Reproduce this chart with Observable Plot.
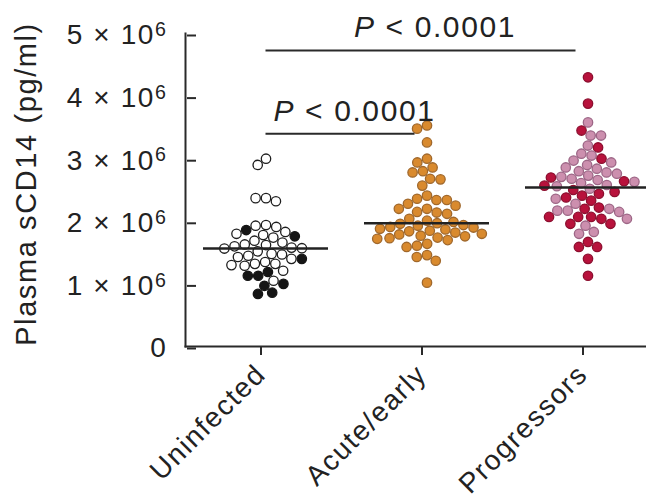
<!DOCTYPE html>
<html><head><meta charset="utf-8">
<script src="https://cdn.jsdelivr.net/npm/d3@7"></script>
<script src="https://cdn.jsdelivr.net/npm/@observablehq/plot@0.6"></script>
<style>body{margin:0;background:#fff} svg{display:block}</style>
</head><body><div id="chart"></div>
<script>
// values in units of 10^6 pg/ml
const categories = ["Uninfected", "Acute/early", "Progressors"];
const uninfectedOpen = [3.00, 2.90, 2.37, 2.32, 2.37, 1.93, 1.91, 1.94, 1.80, 1.83, 1.74, 1.69, 1.78, 1.66, 1.60, 1.63, 1.57, 1.565, 1.62, 1.58, 1.52, 1.45, 1.40, 1.43, 1.48, 1.47, 1.32, 1.35, 1.29, 1.32, 1.30, 1.21, 1.05];
const uninfectedFilled = [1.76, 1.86, 1.40, 1.13, 1.13, 1.19, 0.97, 1.00, 0.84, 0.86];
const acuteEarly = [3.53, 3.48, 3.26, 3.00, 2.94, 2.86, 2.78, 2.80, 2.67, 2.68, 2.57, 2.41, 2.36, 2.34, 2.34, 2.25, 2.28, 2.20, 2.20, 2.15, 2.12, 2.14,
  2.04, 2.01, 1.99, 1.97, 1.96, 1.94, 1.93, 1.91, 1.90, 1.88, 1.87, 1.85, 1.84, 1.82, 1.80, 1.79, 1.77, 1.76, 1.74, 1.73, 1.72, 1.70,
  1.64, 1.61, 1.59, 1.46, 1.43, 1.37, 1.02];
const progressorsRed = [4.30, 3.88, 3.45, 3.18, 3.00, 2.70, 2.64, 2.57, 2.50, 2.47, 2.44, 2.41, 2.38, 2.33, 2.20, 2.22, 2.07, 2.04, 2.07, 2.07, 1.96, 1.96, 1.67, 1.59, 1.59, 1.40, 1.13];
const progressorsPink = [3.58, 3.37, 3.37, 3.21, 3.08, 3.05, 2.97, 2.94, 2.90, 2.86, 2.84, 2.80, 2.78, 2.76, 2.73, 2.71, 2.68, 2.66, 2.63, 2.61, 2.58, 2.56, 2.52, 2.36, 2.28, 2.20, 2.17, 2.17, 2.15, 2.04, 1.93, 1.83, 1.80];
const yTicks = [0, 1, 2, 3, 4, 5];
const yTitle = "Plasma sCD14 (pg/ml)";
const brackets = [
  {from: "Uninfected", to: "Acute/early", y: 3.40},
  {from: "Uninfected", to: "Progressors", y: 4.73}
];
const pLabel = "P < 0.0001";

const fillOf = {open: "#ffffff", filled: "#151515", acute: "#d98a2e", red: "#b8123c", pink: "#cc8fae"};
const strokeOf = {open: "#1e1e1e", filled: "#151515", acute: "#a0682c", red: "#8c0f2f", pink: "#9d6686"};

const rows = [
  ...uninfectedOpen.map(v => ({group: categories[0], value: v, kind: "open"})),
  ...uninfectedFilled.map(v => ({group: categories[0], value: v, kind: "filled"})),
  ...acuteEarly.map(v => ({group: categories[1], value: v, kind: "acute"})),
  ...progressorsRed.map(v => ({group: categories[2], value: v, kind: "red"})),
  ...progressorsPink.map(v => ({group: categories[2], value: v, kind: "pink"}))
].sort((a, b) => d3.descending(a.value, b.value));

const idx = c => categories.indexOf(c);

const svg = Plot.plot({
  width: 646,
  height: 502,
  marginLeft: 195,
  marginRight: 0,
  marginTop: 33,
  marginBottom: 156,
  style: {fontFamily: "'Liberation Sans', Arial, sans-serif", fontSize: "27px", color: "#222", letterSpacing: "1.6px", background: "#fff"},
  fx: {domain: categories, range: [184, 669], paddingInner: 0, paddingOuter: 0},
  x: {domain: [-0.5, 0.5], axis: null},
  y: {domain: [0, 5]},
  marks: [
    Plot.frame({anchor: "left", facet: "super", stroke: "#2a2a2a", strokeWidth: 2}),
    Plot.frame({anchor: "bottom", facet: "super", stroke: "#2a2a2a", strokeWidth: 2}),
    Plot.axisY({ticks: yTicks, tickSize: 9, tickPadding: 20, dx: 11, dy: 2, strokeWidth: 2, stroke: "#2a2a2a", fontSize: 28,
      tickFormat: d => d === 0 ? "0" : `${d} × 10^6`, label: null}),
    Plot.axisFx({anchor: "bottom", tickSize: 9, tickPadding: 14, dx: -5, tickRotate: -45, label: null, strokeWidth: 2, stroke: "#2a2a2a", fontSize: 28}),
    Plot.text([yTitle], {facet: "super", text: d => d, frameAnchor: "left", textAnchor: "middle", rotate: -90, dx: -159, dy: -6, fontSize: 29, fill: "#222"}),
    Plot.dot(rows, Plot.dodgeX("middle", {fx: "group", y: "value", r: 4.7, padding: 0,
      fill: d => fillOf[d.kind], stroke: d => strokeOf[d.kind], strokeWidth: 1.3})),
    Plot.ruleY(rows, Plot.groupZ({y: "median"}, {fx: "group", y: "value", stroke: "#222", strokeWidth: 2.5, insetLeft: 18, insetRight: 18})),
    Plot.ruleY(brackets, {fx: "from", y: "y", x1: 0, x2: d => idx(d.to) - idx(d.from), insetRight: 12, stroke: "#2a2a2a", strokeWidth: 2}),
    Plot.text(brackets, {fx: "from", y: "y", x: d => (idx(d.to) - idx(d.from)) / 2, text: () => pLabel,
      lineAnchor: "bottom", dy: -13, dx: 8, fontSize: 30, fill: "#222"})
  ]
});

// superscript exponents on the y tick labels
d3.select(svg).selectAll('g[aria-label="y-axis tick label"] text').each(function() {
  const m = this.textContent.match(/^(.*)\^(\d+)$/);
  if (!m) return;
  const t = d3.select(this); t.text("");
  t.append("tspan").text(m[1]);
  t.append("tspan").attr("dy", "-0.42em").attr("font-size", "0.7em").text(m[2]);
});
// italic P in the p-value labels
d3.select(svg).selectAll("text").filter(function() { return this.textContent === pLabel; }).each(function() {
  const s = this.textContent; const t = d3.select(this); t.text("");
  t.append("tspan").attr("font-style", "italic").text(s.slice(0, 1));
  t.append("tspan").text(s.slice(1));
});

document.getElementById("chart").appendChild(svg);
</script>
</body></html>
